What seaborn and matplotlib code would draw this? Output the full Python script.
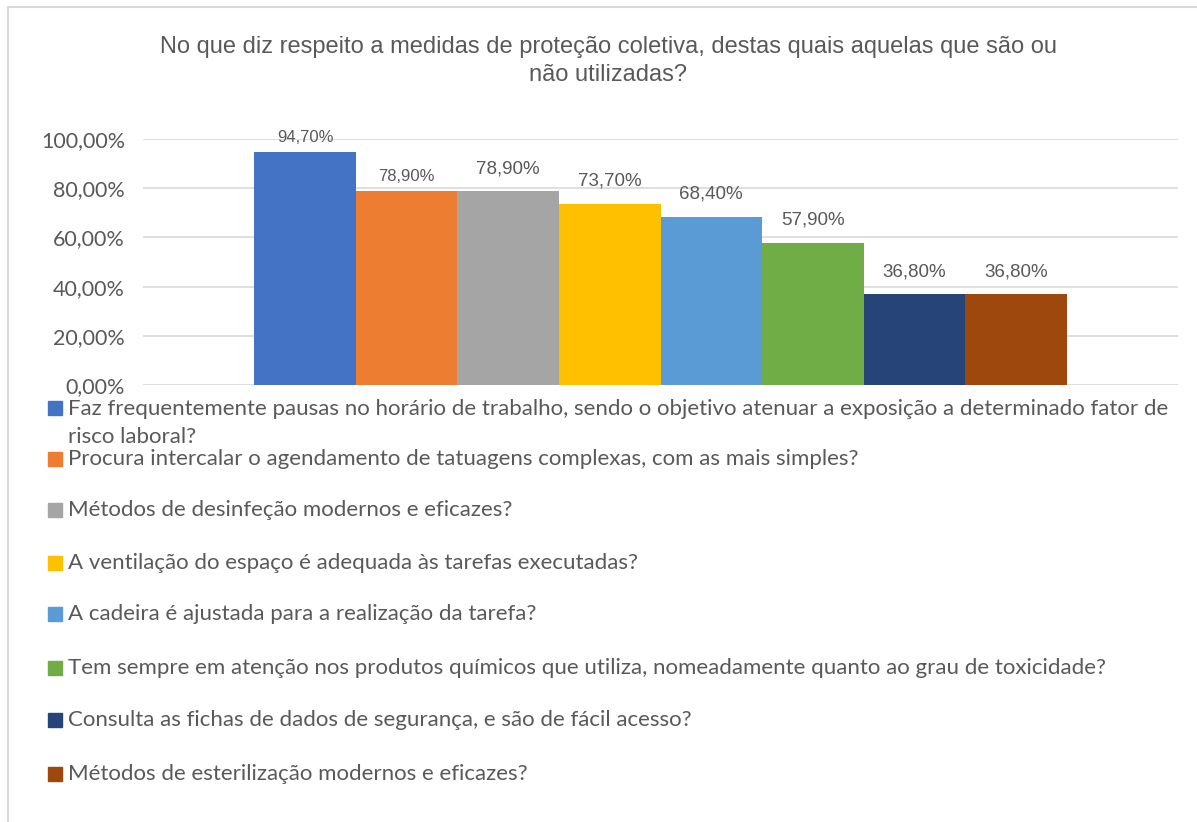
import pandas as pd
import seaborn as sns
import matplotlib.pyplot as plt
from matplotlib.patches import Rectangle

# Data
questions = [
    "Faz frequentemente pausas no horário de trabalho, sendo o objetivo atenuar a exposição a determinado fator de\nrisco laboral?",
    "Procura intercalar o agendamento de tatuagens complexas, com as mais simples?",
    "Métodos de desinfeção modernos e eficazes?",
    "A ventilação do espaço é adequada às tarefas executadas?",
    "A cadeira é ajustada para a realização da tarefa?",
    "Tem sempre em atenção nos produtos químicos que utiliza, nomeadamente quanto ao grau de toxicidade?",
    "Consulta as fichas de dados de segurança, e são de fácil acesso?",
    "Métodos de esterilização modernos e eficazes?",
]
values = [0.947, 0.789, 0.789, 0.737, 0.684, 0.579, 0.368, 0.368]
label_sizes = [12, 12, 13.5, 13.5, 13.5, 13.5, 13.5, 13.5]
colors = ["#4472C4", "#ED7D31", "#A5A5A5", "#FFC000",
          "#5B9BD5", "#70AD47", "#264478", "#9E480E"]
yticks = [0, 0.2, 0.4, 0.6, 0.8, 1.0]

title = ("No que diz respeito a medidas de proteção coletiva, destas quais aquelas que são ou\n"
         "não utilizadas?")

df = pd.DataFrame({"grupo": ["g"] * len(values), "pergunta": questions, "valor": values})

sns.set_style("white")
plt.rcParams['font.family'] = ['Liberation Sans', 'DejaVu Sans']
txt = "#595959"
grid = "#D9D9D9"

fig = plt.figure(figsize=(11.97, 8.22), dpi=100)
ax = fig.add_axes([143 / 1197, 1 - 385 / 822, 1035 / 1197, 246 / 822])

sns.barplot(data=df, x="grupo", y="valor", hue="pergunta", palette=colors,
            width=0.785, gap=0, ax=ax, legend=False, saturation=1, linewidth=0)

ax.set_xlim(-0.5, 0.5)
ax.set_ylim(0, 1.0)
ax.set_yticks(yticks)
ax.set_yticklabels([f"{v * 100:.2f}%".replace(".", ",") for v in yticks],
                   fontsize=15.5, color=txt, family=['Lato', 'DejaVu Sans'])
ax.tick_params(axis="y", length=0, pad=13)
ax.set_xticks([])
ax.set_xlabel("")
ax.set_ylabel("")
for y in yticks:
    ax.axhline(y, color=grid, lw=1.2, zorder=0)
for s in ax.spines.values():
    s.set_visible(False)

# data labels
for cont, v, fs in zip(ax.containers, values, label_sizes):
    ax.bar_label(cont, labels=[f"{v * 100:.2f}%".replace(".", ",")],
                 padding=5 if fs < 13 else 10, fontsize=fs, color=txt)

# title
fig.text(608 / 1197, 1 - 61 / 822, title, ha="center", va="center",
         fontsize=17, color=txt, linespacing=1.32)

# legend, laid out like the Excel one
legend_y = [408, 459, 510, 563, 614, 668, 720, 774]
for q, c, y in zip(questions, colors, legend_y):
    fig.patches.append(Rectangle((48 / 1197, 1 - (y + 7) / 822), 14 / 1197, 14 / 822,
                                 transform=fig.transFigure, color=c))
    fig.text(68 / 1197, 1 - (y - 9) / 822 if "\n" in q else 1 - y / 822, q,
             ha="left", va="top" if "\n" in q else "center",
             fontsize=16, color=txt, family=['Lato', 'DejaVu Sans'],
             linespacing=1.5)

# chart border
fig.patches.append(Rectangle((8 / 1197, -0.05), 1.2, 1 - 7 / 822 + 0.05,
                             transform=fig.transFigure, fill=False,
                             edgecolor=grid, lw=1.5))

fig.savefig("out.png", dpi=100)
